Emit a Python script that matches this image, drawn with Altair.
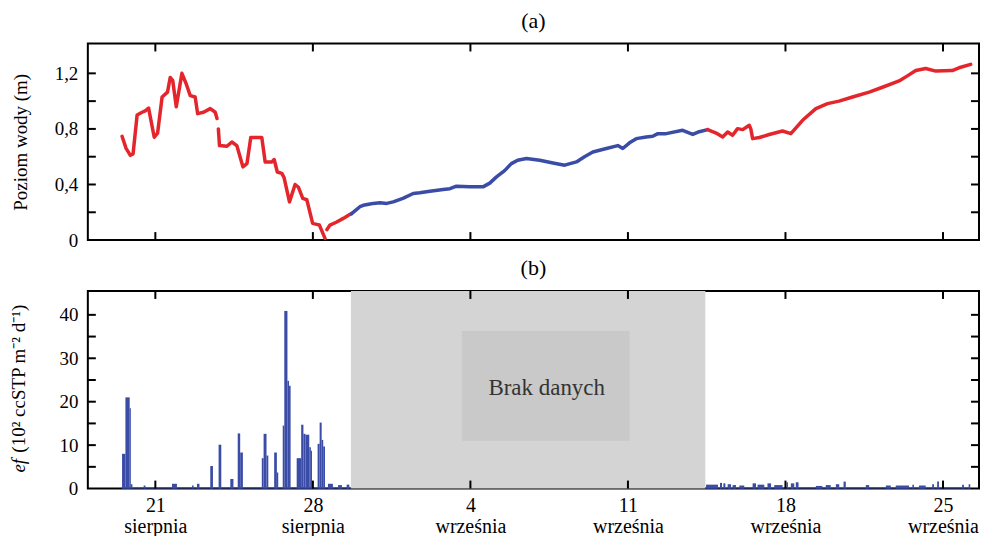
import altair as alt
import pandas as pd

SERIF = "Liberation Serif"
RED = "#e4252b"
BLUE = "#3a4ca6"

# ---------------- (a) water level: day = days since 18 August ----------------
level_day = [
    # red, part 1
    1.52, 1.70, 1.89, 2.01, 2.19, 2.41, 2.55, 2.70, 2.95, 3.10, 3.30, 3.54, 3.66, 3.77,
    3.93, 4.18, 4.37, 4.55, 4.77, 4.88, 5.14, 5.44, 5.66, 5.74,
    # red, part 2
    5.80, 5.85, 6.18, 6.40, 6.62, 6.89, 7.07, 7.24, 7.73, 7.88, 8.18, 8.28, 8.42, 8.62,
    8.72, 8.96, 9.21, 9.36, 9.55, 9.73, 9.99, 10.17, 10.29, 10.54,
    # red, part 3
    10.62, 10.76, 11.06, 11.35, 11.65, 11.72,
    # blue
    11.72, 11.87, 12.09, 12.24, 12.54, 12.68, 12.98, 13.28, 13.57, 14.00, 14.46, 14.75,
    15.20, 15.79, 16.09, 16.38, 16.97, 17.56, 17.86, 18.16, 18.52, 18.82, 19.10, 19.49,
    20.08, 20.67, 21.19, 21.71, 22.07, 22.44, 23.04, 23.55, 23.77, 24.07, 24.37, 24.81,
    25.10, 25.33, 25.70, 26.43, 26.88, 27.17, 27.54,
    # red, part 4
    27.54, 27.92, 28.21, 28.43, 28.65, 28.87, 29.10, 29.39, 29.46, 29.54, 29.84, 30.28,
    30.87, 31.24, 31.76, 32.35, 32.87, 33.38, 33.98, 34.72, 35.31, 36.05, 36.40, 36.79,
    37.23, 37.68, 38.41, 38.71, 39.23,
]
level_value = [
    0.747, 0.66, 0.61, 0.62, 0.90, 0.92, 0.93, 0.95, 0.74, 0.77, 1.03, 1.065, 1.17, 1.15,
    0.96, 1.20, 1.125, 1.04, 1.03, 0.91, 0.92, 0.946, 0.92, 0.875,
    0.80, 0.68, 0.675, 0.706, 0.68, 0.527, 0.55, 0.738, 0.738, 0.5625, 0.5625, 0.58, 0.49, 0.48,
    0.45, 0.275, 0.40, 0.38, 0.30, 0.29, 0.12, 0.113, 0.108, 0.012,
    0.075, 0.108, 0.13, 0.156, 0.185, 0.19,
    0.19, 0.21, 0.24, 0.25, 0.26, 0.264, 0.268, 0.264, 0.275, 0.30, 0.335, 0.34,
    0.352, 0.364, 0.37, 0.388, 0.383, 0.383, 0.41, 0.455, 0.50, 0.55, 0.575, 0.587,
    0.575, 0.555, 0.539, 0.5625, 0.60, 0.634, 0.659, 0.68, 0.659, 0.70, 0.73, 0.742,
    0.747, 0.766, 0.766, 0.79, 0.76, 0.78, 0.795,
    0.795, 0.77, 0.742, 0.778, 0.754, 0.802, 0.795, 0.826, 0.80, 0.73, 0.738, 0.76,
    0.785, 0.766, 0.862, 0.946, 0.982, 1.0, 1.03, 1.065, 1.10, 1.145, 1.18, 1.22,
    1.235, 1.216, 1.22, 1.24, 1.265,
]
level_segment = (["r1"] * 24 + ["r2"] * 24 + ["r3"] * 6 + ["b"] * 43 + ["r4"] * 29)

# ---------------- (b) ef spikes: start day, end day, value ----------------
ef_start = [
    1.50, 1.52, 1.67, 1.86, 1.91, 2.48, 3.74, 4.63, 4.85, 5.44, 5.81, 6.33, 6.66, 6.77,
    7.73, 7.81, 7.94, 8.28, 8.40, 8.66, 8.73, 8.87, 8.94, 9.28, 9.48, 9.58, 9.67, 9.84,
    9.91, 10.21, 10.30, 10.39, 10.46, 10.67, 11.12, 11.50,
    27.44, 27.47, 28.09, 28.24, 28.43, 28.65, 28.95, 29.54, 29.76, 30.20, 30.50, 31.05,
    31.24, 31.46, 32.35, 32.79, 33.24, 33.58, 34.57, 35.46, 35.90, 36.64, 36.93, 37.52,
    37.74, 38.85, 39.14,
]
ef_end = [
    11.69, 1.67, 1.86, 1.91, 1.98, 2.56, 3.96, 4.70, 4.96, 5.56, 5.93, 6.47, 6.77, 6.89,
    7.81, 7.94, 8.02, 8.40, 8.46, 8.73, 8.87, 8.94, 9.01, 9.48, 9.58, 9.67, 9.84, 9.91,
    9.96, 10.30, 10.39, 10.46, 10.54, 10.89, 11.29, 11.62,
    39.21, 28.00, 28.18, 28.33, 28.58, 28.80, 29.17, 29.69, 30.06, 30.36, 30.87, 31.11,
    31.39, 31.58, 32.64, 33.01, 33.39, 33.68, 34.72, 35.68, 36.49, 36.71, 37.23, 37.60,
    37.82, 38.93, 39.21,
]
ef_value = [
    0.3, 8.0, 21.0, 18.5, 1.0, 0.7, 1.1, 0.7, 1.1, 5.2, 10.1, 2.2, 12.7, 8.3,
    7.0, 12.6, 7.6, 8.3, 3.7, 14.5, 40.9, 24.8, 23.7, 7.0, 14.7, 12.6, 12.4, 9.5,
    8.7, 10.3, 15.2, 11.2, 9.7, 1.1, 0.8, 0.9,
    0.3, 0.9, 1.3, 1.2, 1.0, 0.8, 0.7, 1.2, 0.9, 1.2, 0.8, 1.45,
    1.2, 1.45, 0.6, 0.8, 1.0, 1.6, 0.8, 0.7, 0.7, 0.9, 0.7, 1.0,
    1.6, 0.9, 1.0,
]

# no-data band and label box
nodata_start, nodata_end = 11.69, 27.44
box_start, box_end = 16.62, 24.07
box_low, box_high = 11.0, 36.3
nodata_text = "Brak danych"
nodata_text_day, nodata_text_value = 20.39, 23.2

# axes
x_tick_days = [3, 10, 17, 24, 31, 38]
x_tick_day_labels = ["21", "28", "4", "11", "18", "25"]
x_tick_month_labels = ["sierpnia", "sierpnia", "września", "września", "września", "września"]
x_domain = [0, 39.6]

a_ticks = [0.2, 0.4, 0.6, 0.8, 1.0, 1.2]
a_labels = [0, 0.4, 0.8, 1.2]
a_domain = [0, 1.415]
b_ticks = [5, 10, 15, 20, 25, 30, 35, 40]
b_labels = [0, 10, 20, 30, 40]
b_domain = [0, 45.5]

W, H1, H2 = 893, 197, 198
TICK = 8

xscale = alt.Scale(domain=x_domain, nice=False, zero=False)
ascale = alt.Scale(domain=a_domain, nice=False, zero=False)
bscale = alt.Scale(domain=b_domain, nice=False, zero=False)

label_expr = " : ".join(
    f"datum.value == {d} ? ['{a}', '{b}']"
    for d, a, b in zip(x_tick_days, x_tick_day_labels, x_tick_month_labels)
) + " : ''"

# axis objects (shared by every layer that uses the scale)
ax_x_b = alt.Axis(
    values=x_tick_days, labelExpr=label_expr, ticks=False, domain=False, grid=False, title="",
    labelFont=SERIF, labelFontSize=20, labelColor="black", labelPadding=7, labelLineHeight=21)
ax_y_a = alt.Axis(
    values=a_labels,
    labelExpr="datum.value == 0 ? '0' : replace(format(datum.value, '.1f'), '.', ',')",
    ticks=False, domain=False, grid=False,
    title="Poziom wody (m)", titleFont=SERIF, titleFontSize=19, titleFontWeight="normal",
    titleColor="black", titlePadding=24,
    labelFont=SERIF, labelFontSize=19, labelColor="black", labelPadding=10)
ax_y_b = alt.Axis(
    values=b_labels, ticks=False, domain=False, grid=False, title="",
    labelFont=SERIF, labelFontSize=19, labelColor="black", labelPadding=10)


def xenc(field, xaxis):
    if xaxis is None:
        return alt.X(field, scale=xscale, axis=None)
    return alt.X(field, scale=xscale, axis=xaxis)


def frame_ticks(xaxis, yscale, yaxis, yticks, height):
    xt = alt.Chart(pd.DataFrame({"d": x_tick_days}))
    yt = alt.Chart(pd.DataFrame({"v": yticks}))
    rule = dict(color="black", strokeWidth=2)
    xb = xt.mark_rule(**rule).encode(
        x=xenc("d:Q", xaxis),
        y=alt.value(height - TICK), y2=alt.value(height))
    xtp = xt.mark_rule(**rule).encode(
        x=xenc("d:Q", xaxis),
        y=alt.value(0), y2=alt.value(TICK))
    yl = yt.mark_rule(**rule).encode(
        y=alt.Y("v:Q", scale=yscale, axis=yaxis),
        x=alt.value(0), x2=alt.value(TICK))
    yr = yt.mark_rule(**rule).encode(
        y=alt.Y("v:Q", scale=yscale, axis=yaxis),
        x=alt.value(W - TICK), x2=alt.value(W))
    return [xb, xtp, yl, yr]


# ---------------- panel (a) ----------------
level_df = pd.DataFrame({
    "day": level_day,
    "value": level_value,
    "segment": level_segment,
    "kind": ["b" if s == "b" else "r" for s in level_segment],
})

line = alt.Chart(level_df).mark_line(strokeWidth=3.5, strokeJoin="round", strokeCap="round").encode(
    x=xenc("day:Q", None),
    y=alt.Y("value:Q", scale=ascale, axis=ax_y_a),
    color=alt.Color("kind:N", scale=alt.Scale(domain=["r", "b"], range=[RED, BLUE]), legend=None),
    detail="segment:N",
    order="day:Q",
)

panel_a = alt.layer(line, *frame_ticks(None, ascale, ax_y_a, a_ticks, H1)).properties(
    width=W, height=H1,
    title=alt.TitleParams("(a)", font=SERIF, fontSize=22, fontWeight="normal", color="black", offset=10),
)

# ---------------- panel (b) ----------------
ef_df = pd.DataFrame({"start": ef_start, "end": ef_end, "value": ef_value})

band = alt.Chart(pd.DataFrame({"s": [nodata_start], "e": [nodata_end]})).mark_rect(color="#d4d4d4").encode(
    x=xenc("s:Q", ax_x_b), x2="e:Q",
    y=alt.value(0), y2=alt.value(H2))
box = alt.Chart(pd.DataFrame({"s": [box_start], "e": [box_end], "lo": [box_low], "hi": [box_high]})).mark_rect(
    color="#c9c9c9").encode(
    x=xenc("s:Q", ax_x_b), x2="e:Q",
    y=alt.Y("lo:Q", scale=bscale, axis=ax_y_b), y2="hi:Q")
box_text = alt.Chart(pd.DataFrame({"t": [nodata_text], "d": [nodata_text_day], "v": [nodata_text_value]})).mark_text(
    font=SERIF, fontSize=23, color="#333333", align="center", baseline="middle").encode(
    x=xenc("d:Q", ax_x_b),
    y=alt.Y("v:Q", scale=bscale, axis=ax_y_b),
    text="t:N")

bars = alt.Chart(ef_df).mark_rect(color=BLUE).encode(
    x=xenc("start:Q", ax_x_b),
    x2="end:Q",
    y=alt.Y("value:Q", scale=bscale, axis=ax_y_b),
    y2=alt.datum(0),
)

title_ef = alt.Chart(pd.DataFrame({"t": ["ef"]})).mark_text(
    font=SERIF, fontSize=19, fontStyle="italic", angle=270, align="left", baseline="middle", color="black"
).encode(text="t:N", x=alt.value(-69), y=alt.value(182))
title_rest = alt.Chart(pd.DataFrame({"t": ["(10² ccSTP m⁻² d⁻¹)"]})).mark_text(
    font=SERIF, fontSize=19, angle=270, align="left", baseline="middle", color="black"
).encode(text="t:N", x=alt.value(-69), y=alt.value(162))

panel_b = alt.layer(band, box, box_text, bars, *frame_ticks(ax_x_b, bscale, ax_y_b, b_ticks, H2),
                    title_ef, title_rest).properties(
    width=W, height=H2,
    title=alt.TitleParams("(b)", font=SERIF, fontSize=22, fontWeight="normal", color="black", offset=10),
)

chart = alt.vconcat(panel_a, panel_b, spacing=5).properties(
    padding=0, background="white"
).configure_view(stroke="black", strokeWidth=2)

chart.save("out.html", embed_options={"renderer": "svg", "actions": False})
